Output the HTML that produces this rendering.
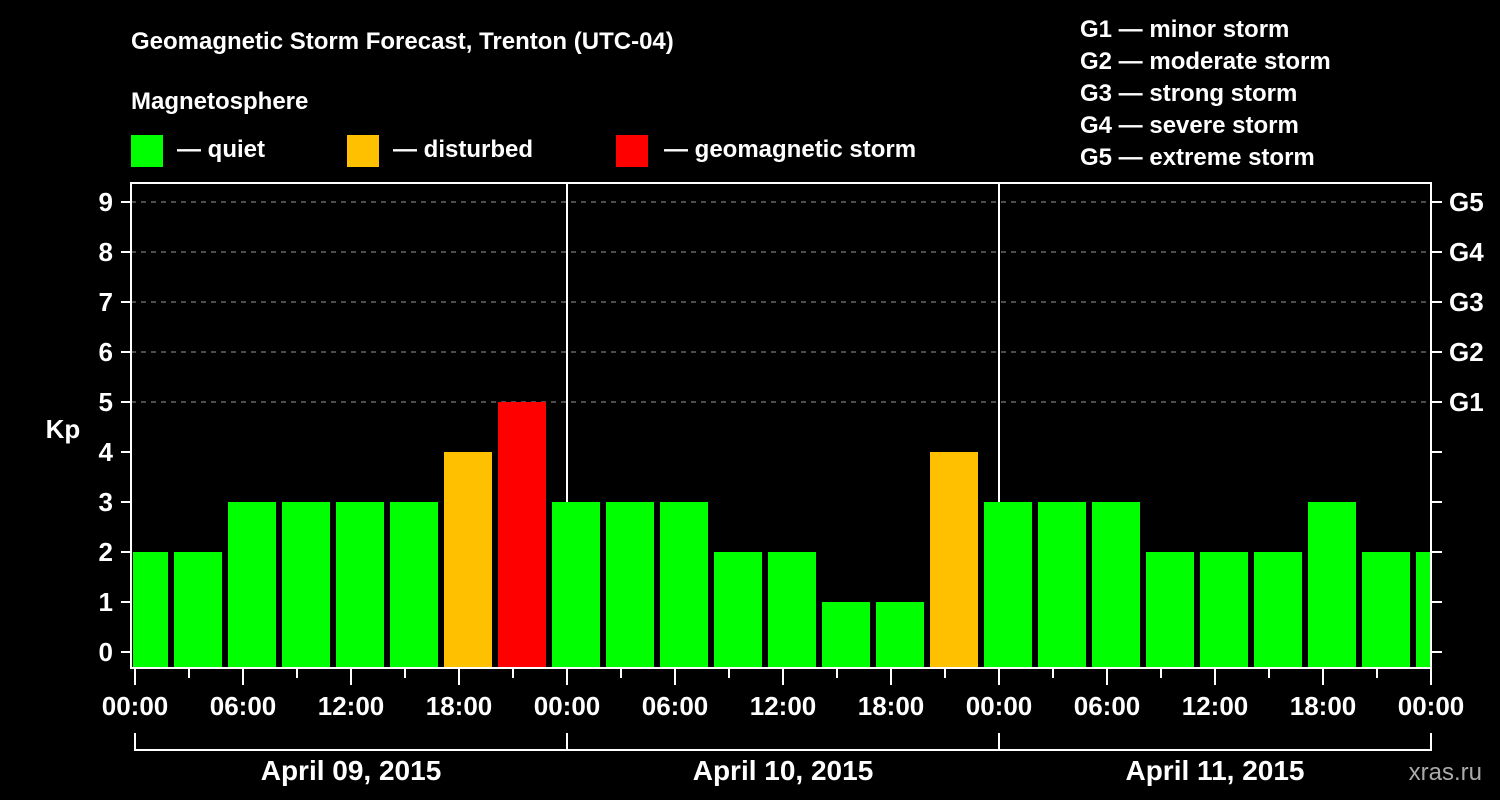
<!DOCTYPE html>
<html><head><meta charset="utf-8"><style>
html,body{margin:0;padding:0;background:#000;width:1500px;height:800px;overflow:hidden}
svg{display:block;font-family:"Liberation Sans",Arial,sans-serif;font-weight:bold}
</style></head><body>
<svg id="chart" width="1500" height="800" viewBox="0 0 1500 800" xmlns="http://www.w3.org/2000/svg">
<rect width="1500" height="800" fill="#000"/>
<text x="131" y="49" fill="#fff" font-size="24">Geomagnetic Storm Forecast, Trenton (UTC-04)</text>
<text x="131" y="109" fill="#fff" font-size="24">Magnetosphere</text>
<g><rect x="131" y="135" width="32" height="32" fill="#00ff00"/><text x="177" y="157" fill="#fff" font-size="24">— quiet</text></g>
<g><rect x="347" y="135" width="32" height="32" fill="#ffc000"/><text x="393" y="157" fill="#fff" font-size="24">— disturbed</text></g>
<g><rect x="616" y="135" width="32" height="32" fill="#ff0000"/><text x="664" y="157" fill="#fff" font-size="24">— geomagnetic storm</text></g>
<g fill="#fff" font-size="24">
<text x="1080" y="37">G1 — minor storm</text>
<text x="1080" y="69">G2 — moderate storm</text>
<text x="1080" y="101">G3 — strong storm</text>
<text x="1080" y="133">G4 — severe storm</text>
<text x="1080" y="165">G5 — extreme storm</text>
</g>
<text x="63" y="438" fill="#fff" font-size="26" text-anchor="middle">Kp</text>
<text x="1482" y="780" fill="#aaa" font-size="24" text-anchor="end" font-weight="normal">xras.ru</text>
<g id="grid"></g>
<defs><clipPath id="pc"><rect x="133" y="184" width="1297" height="483"/></clipPath></defs>
<g id="bars" clip-path="url(#pc)"></g>
<g id="axes"></g>
</svg>
<script>
const kpValues = [2,2,3,3,3,3,4,5, 3,3,3,2,2,1,1,4, 3,3,3,2,2,2,3,2, 2];
const barCenterHours = 0.5; // first bin center offset (hours)
const binHours = 3;
const yTicks = [0,1,2,3,4,5,6,7,8,9];
const gLabels = ["G1","G2","G3","G4","G5"];
const gLevels = [5,6,7,8,9];
const xTickLabels = ["00:00","06:00","12:00","18:00","00:00","06:00","12:00","18:00","00:00","06:00","12:00","18:00","00:00"];
const dayLabels = ["April 09, 2015","April 10, 2015","April 11, 2015"];

const NS="http://www.w3.org/2000/svg";
const x = h => 135 + h*18;
const y = v => 652 - v*50;
function mk(tag, attrs, parent, txt){const e=document.createElementNS(NS,tag);for(const k in attrs)e.setAttribute(k,attrs[k]);if(txt!==undefined)e.textContent=txt;parent.appendChild(e);return e;}
const grid=document.getElementById('grid'), bars=document.getElementById('bars'), axes=document.getElementById('axes');
const colorFor = v => v>=5?'#ff0000':(v>=4?'#ffc000':'#00ff00');

gLevels.forEach(v=>{
  const l=mk('line',{x1:131,x2:1431,y1:y(v),y2:y(v),stroke:'#999','stroke-width':1,'stroke-dasharray':'5,5'},grid);
  
  
});
[1,2].forEach(d=>{
  const l=mk('line',{x1:x(d*24),x2:x(d*24),y1:183,y2:668,stroke:'#fff','stroke-width':2},grid);
  
  
});
kpValues.forEach((v,i)=>{
  const c=x(barCenterHours+i*binHours);
  const r=mk('rect',{x:c-24,y:y(v),width:48,height:y(-0.3)-y(v),fill:colorFor(v)},bars);
  
  
});
const frame=mk('rect',{x:131,y:183,width:1300,height:485,fill:'none',stroke:'#fff','stroke-width':2},axes);


yTicks.forEach(v=>{
  mk('line',{x1:121,x2:131,y1:y(v),y2:y(v),stroke:'#fff','stroke-width':2},axes);
  mk('line',{x1:1431,x2:1442,y1:y(v),y2:y(v),stroke:'#fff','stroke-width':2},axes);
  const t=mk('text',{x:113,y:y(v)+9,fill:'#fff','font-size':26,'text-anchor':'end'},axes,String(v));
  
  
});
gLevels.forEach((v,i)=>{
  const t=mk('text',{x:1449,y:y(v)+9,fill:'#fff','font-size':26},axes,gLabels[i]);
  
  
});
for(let h=0;h<=72;h+=3){
  const major=h%6===0;
  mk('line',{x1:x(h),x2:x(h),y1:668,y2:major?685:678,stroke:'#fff','stroke-width':2},axes);
}
xTickLabels.forEach((s,i)=>{
  const t=mk('text',{x:x(i*6),y:715,fill:'#fff','font-size':26,'text-anchor':'middle'},axes,s);
  
  
});
mk('polyline',{points:`${x(0)},733 ${x(0)},750 ${x(72)},750 ${x(72)},733`,fill:'none',stroke:'#fff','stroke-width':2},axes);
[1,2].forEach(d=>mk('line',{x1:x(d*24),x2:x(d*24),y1:733,y2:750,stroke:'#fff','stroke-width':2},axes));
dayLabels.forEach((s,i)=>{
  const t=mk('text',{x:x(i*24+12),y:780,fill:'#fff','font-size':28,'text-anchor':'middle'},axes,s);
  
  
});
</script>
</body></html>
